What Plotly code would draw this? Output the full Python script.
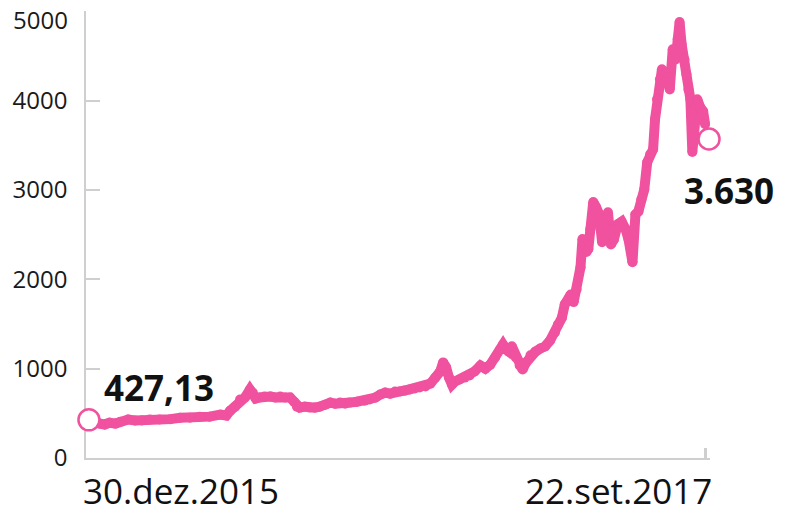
import pandas as pd
import plotly.graph_objects as go

# Bitcoin price (USD)
start_date = "2015-12-30"
days_since_start = [
    0, 6, 11, 16, 21, 27, 32, 40, 47, 54, 62, 72, 83, 93, 103, 113, 123, 134, 140, 144,
    149, 154, 159, 164, 167, 170, 174, 179, 185, 190, 195, 200, 205, 209, 212, 215, 220, 225, 230, 235,
    241, 246, 251, 256, 261, 266, 273, 281, 286, 292, 297, 302, 307, 312, 317, 322, 327, 332, 337, 343,
    348, 353, 358, 361, 364, 367, 370, 373, 378, 383, 388, 393, 399, 404, 409, 414, 419, 422, 425, 428,
    431, 435, 439, 442, 445, 450, 455, 460, 465, 470, 475, 478, 482, 485, 488, 491, 494, 497, 501, 503,
    505, 507, 509, 511, 514, 517, 520, 523, 526, 529, 532, 535, 539, 543, 547, 550, 554, 557, 560, 563,
    566, 569, 572, 575, 577, 579, 582, 584, 587, 589, 592, 595, 598, 600, 602, 604, 607, 609, 611, 613,
    615, 617, 620, 623, 626, 628,
]
price = [
    427, 395, 385, 375, 395, 385, 405, 430, 420, 420, 430, 430, 435, 450, 450, 463, 463, 485, 475, 530,
    575, 655, 677, 766, 732, 665, 677, 688, 688, 677, 688, 677, 677, 630, 575, 564, 575, 564, 564, 575,
    597, 620, 608, 620, 608, 620, 630, 642, 655, 677, 710, 732, 720, 745, 745, 755, 766, 777, 790, 800,
    833, 900, 968, 1070, 1015, 900, 822, 856, 878, 900, 923, 968, 1035, 1000, 1045, 1125, 1215, 1270, 1215, 1190,
    1250, 1125, 1035, 990, 1060, 1150, 1190, 1225, 1250, 1315, 1405, 1495, 1570, 1720, 1755, 1830, 1745, 1885, 2135, 2450,
    2395, 2305, 2340, 2560, 2865, 2805, 2730, 2415, 2615, 2750, 2390, 2445, 2615, 2645, 2560, 2445, 2190, 2725, 2760, 2895,
    3005, 3310, 3400, 3455, 3795, 4015, 4240, 4350, 4295, 4315, 4125, 4575, 4460, 4690, 4880, 4635, 4460, 4295, 4125, 4015,
    3425, 3905, 4015, 3925, 3880, 3735,
]
start_value = 427.13
end_day = 632
end_value = 3570
start_label = "427,13"
end_label = "3.630"
x_labels = ["30.dez.2015", "22.set.2017"]
y_ticks = [0, 1000, 2000, 3000, 4000, 5000]

PINK = "#F0529F"
GRAY = "#CFCFCF"
TICK_FONT = dict(family="Open Sans", size=24, color="#1a1a1a")

t0 = pd.Timestamp(start_date)
dates = [t0 + pd.Timedelta(days=d) for d in days_since_start]
end_date = t0 + pd.Timedelta(days=end_day)

fig = go.Figure()
fig.add_trace(go.Scatter(
    x=dates, y=price, mode="lines+markers",
    line=dict(color=PINK, width=10),
    marker=dict(color=PINK, size=10, line=dict(width=0)),
    hoverinfo="skip", showlegend=False,
))
fig.add_trace(go.Scatter(
    x=[t0, end_date], y=[start_value, end_value], mode="markers",
    marker=dict(size=21, color="white", line=dict(color=PINK, width=2.5)),
    cliponaxis=False, hoverinfo="skip", showlegend=False,
))

fig.add_annotation(x=t0, y=start_value, text=f"<b>{start_label}</b>", showarrow=False,
                   xanchor="left", yanchor="middle", xshift=13, yshift=32,
                   font=dict(family="Open Sans", size=35, color="#111111"))
fig.add_annotation(x=end_date, y=end_value, text=f"<b>{end_label}</b>", showarrow=False,
                   xanchor="left", yanchor="middle", xshift=-27, yshift=-51,
                   font=dict(family="Open Sans", size=35, color="#111111"))
fig.add_annotation(x=-0.008, y=-0.0717, xref="paper", yref="paper", text=x_labels[0],
                   showarrow=False, xanchor="left", yanchor="middle",
                   font=dict(family="Open Sans", size=35, color="#111111"))
fig.add_annotation(x=1.006, y=-0.0717, xref="paper", yref="paper", text=x_labels[1],
                   showarrow=False, xanchor="right", yanchor="middle",
                   font=dict(family="Open Sans", size=35, color="#111111"))
# top y tick label sits a little below its tick, as in the reference
fig.add_annotation(x=-0.0256, y=y_ticks[-1], xref="paper", yref="y", text=str(y_ticks[-1]),
                   showarrow=False, xanchor="right", yanchor="middle", yshift=-8,
                   font=TICK_FONT)

fig.update_layout(
    width=785, height=513,
    margin=dict(l=86, r=75, t=11, b=55, autoexpand=False),
    paper_bgcolor="white", plot_bgcolor="white",
    xaxis=dict(
        type="date",
        range=[t0 - pd.Timedelta(days=3), t0 + pd.Timedelta(days=633)],
        showgrid=False, zeroline=False, automargin=False,
        showline=True, linecolor=GRAY, linewidth=1.5,
        ticks="inside", ticklen=10, tickwidth=3, tickcolor=GRAY,
        tickvals=[t0 + pd.Timedelta(days=628)],
        showticklabels=False, layer="below traces",
    ),
    yaxis=dict(
        range=[0, 5003], automargin=False,
        tickvals=y_ticks, ticktext=[str(v) for v in y_ticks[:-1]] + [""],
        showgrid=False, zeroline=False,
        showline=True, linecolor=GRAY, linewidth=1.5,
        ticks="inside", ticklen=14, tickwidth=1.5, tickcolor=GRAY,
        ticklabelstandoff=12, ticklabeloverflow="allow",
        tickfont=TICK_FONT,
        layer="below traces",
    ),
)

fig.write_html("out.html")
